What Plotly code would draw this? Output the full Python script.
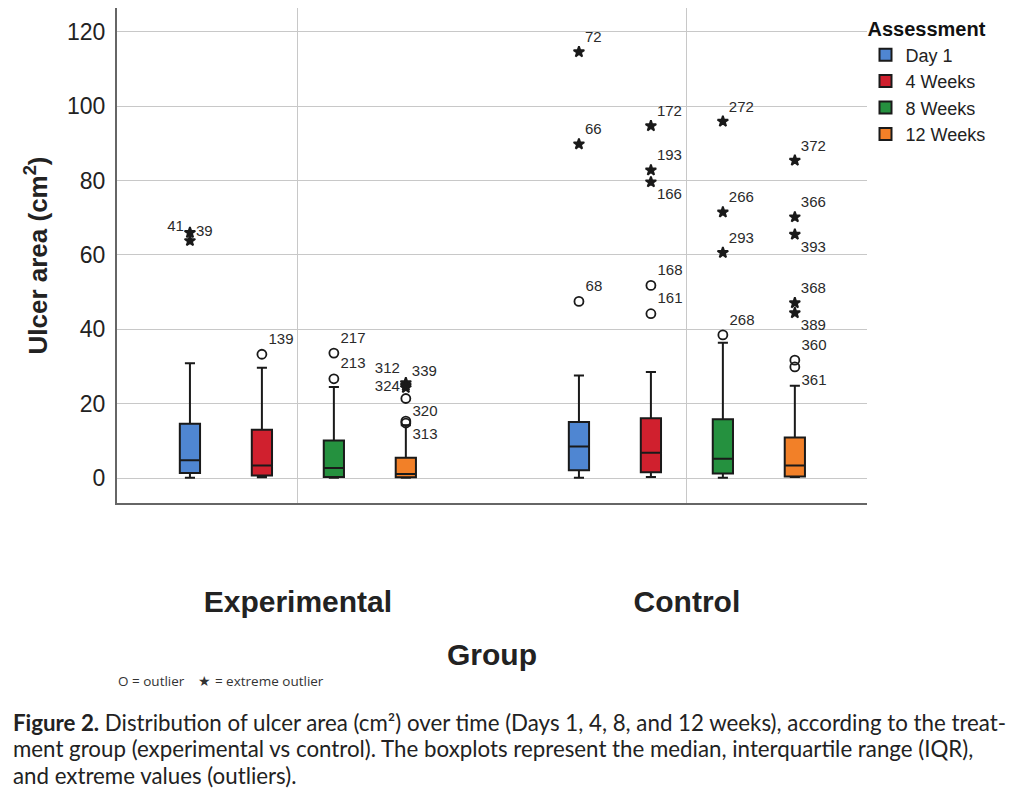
import plotly.graph_objects as go

# box statistics, one value per assessment
assessments = ["Day 1", "4 Weeks", "8 Weeks", "12 Weeks"]
groups = ["Experimental", "Control"]

exp_low = [0.1, 0.2, 0.1, 0.1]
exp_q1 = [1.35, 0.7, 0.3, 0.2]
exp_median = [4.8, 3.4, 2.7, 1.1]
exp_q3 = [14.6, 13.0, 10.1, 5.5]
exp_high = [30.9, 29.7, 24.5, 14.2]

ctrl_low = [0.1, 0.3, 0.1, 0.3]
ctrl_q1 = [2.1, 1.6, 1.2, 0.4]
ctrl_median = [8.5, 6.8, 5.2, 3.4]
ctrl_q3 = [15.1, 16.1, 15.8, 10.9]
ctrl_high = [27.6, 28.5, 36.4, 24.8]

# outliers: group, assessment, value, kind, case number
out_group = ["Experimental"] * 11 + ["Control"] * 19
out_assess = (["Day 1"] * 2 + ["4 Weeks"] + ["8 Weeks"] * 2 + ["12 Weeks"] * 6
              + ["Day 1"] * 3 + ["4 Weeks"] * 5 + ["8 Weeks"] * 4 + ["12 Weeks"] * 7)
out_value = [66.0, 63.8, 33.3, 33.6, 26.7, 21.4, 15.3, 14.8, 25.6, 24.9, 24.3,
             114.6, 89.8, 47.5, 94.7, 82.8, 79.6, 51.8, 44.2,
             95.9, 71.5, 60.6, 38.5,
             85.4, 70.2, 65.5, 47.1, 44.4, 31.7, 29.9]
out_kind = ["extreme", "extreme", "outlier", "outlier", "outlier", "outlier", "outlier", "outlier",
            "extreme", "extreme", "extreme",
            "extreme", "extreme", "outlier", "extreme", "extreme", "extreme", "outlier", "outlier",
            "extreme", "extreme", "extreme", "outlier",
            "extreme", "extreme", "extreme", "extreme", "extreme", "outlier", "outlier"]
out_id = ["39", "41", "139", "217", "213", "320", "313", "", "312", "339", "324",
          "72", "66", "68", "172", "193", "166", "168", "161",
          "272", "266", "293", "268",
          "372", "366", "393", "368", "389", "360", "361"]
# where each case number sits relative to its marker
label_pos = ["middle right", "top left", "top right", "top right", "top right", "bottom right",
             "bottom right", "top right", "top left", "top right", "middle left",
             "top right", "top right", "top right", "top right", "top right", "bottom right",
             "top right", "top right",
             "top right", "top right", "top right", "top right",
             "top right", "top right", "bottom right", "top right", "bottom right",
             "top right", "bottom right"]

colors = ["#4f86d2", "#d0202e", "#25913f", "#f28028"]
SLOT = 0.185
BOX_W = 0.052

fig = go.Figure()

for i, name in enumerate(assessments):
    off = (i - 1.5) * SLOT
    fig.add_trace(go.Box(
        x=[0 + off, 1 + off],
        q1=[exp_q1[i], ctrl_q1[i]],
        median=[exp_median[i], ctrl_median[i]],
        q3=[exp_q3[i], ctrl_q3[i]],
        lowerfence=[exp_low[i], ctrl_low[i]],
        upperfence=[exp_high[i], ctrl_high[i]],
        width=BOX_W,
        whiskerwidth=0.5,
        name=name,
        fillcolor=colors[i],
        line=dict(color="#1a1a1a", width=2),
        hoverinfo="skip",
    ))

    for kind, symbol, size in [("outlier", "circle-open", 9), ("extreme", "star", 8)]:
        xs, ys, txt, pos = [], [], [], []
        for g, a, v, k, t, p in zip(out_group, out_assess, out_value, out_kind, out_id, label_pos):
            if a == name and k == kind:
                xs.append(groups.index(g) + off)
                ys.append(v)
                txt.append(t)
                pos.append(p)
        fig.add_trace(go.Scatter(
            x=xs, y=ys, text=txt, textposition=pos,
            mode="markers+text",
            marker=dict(symbol=symbol, size=size, color="#1a1a1a",
                        line=dict(color="#1a1a1a", width=1.8)),
            textfont=dict(family="Liberation Sans", size=15, color="#2a2a2a"),
            showlegend=False,
            hoverinfo="skip",
        ))

# the page puts the figure 8px in from the top left corner
fig.update_layout(
    width=1025,
    height=791,
    margin=dict(l=109, r=166, t=0, b=296),
    plot_bgcolor="white",
    paper_bgcolor="white",
    font=dict(family="Liberation Sans", color="#222222"),
    legend=dict(
        title=dict(text="<b>Assessment</b>", font=dict(size=20, color="#111111")),
        font=dict(size=18, color="#222222"),
        x=0.998, y=0.995, xanchor="left", yanchor="top",
        bgcolor="rgba(0,0,0,0)",
        tracegroupgap=0,
    ),
)

fig.update_xaxes(
    range=[-0.465, 1.463],
    tickvals=[0, 1],
    ticktext=["<b>%s</b>" % g for g in groups],
    tickfont=dict(size=30, color="#222222"),
    ticklabelstandoff=71,
    showgrid=True, gridcolor="#c8c8c8", gridwidth=1.2,
    zeroline=False,
    showline=True, linecolor="#666666", linewidth=2,
    title=dict(text="<b>Group</b>", font=dict(size=30, color="#222222"), standoff=27),
    automargin=True,
)

fig.update_yaxes(
    range=[-6.7, 126.4],
    tickvals=[0, 20, 40, 60, 80, 100, 120],
    tickfont=dict(size=23, color="#222222"),
    ticklabelstandoff=5,
    showgrid=True, gridcolor="#c8c8c8", gridwidth=1.2,
    zeroline=False,
    showline=True, linecolor="#666666", linewidth=2,
    title=dict(text="<b>Ulcer area (cm<sup>2</sup>)</b>", font=dict(size=26, color="#222222"), standoff=12),
    automargin=True,
)


def py(px):
    # pixel row of the page -> paper coordinate of the plot area
    return (502.7 - px) / 494.7


def pxx(px):
    return (px - 116.7) / 750


fig.add_annotation(
    text="O = outlier    ★ = extreme outlier",
    xref="paper", yref="paper", x=pxx(116), y=py(681),
    xanchor="left", yanchor="middle", showarrow=False,
    font=dict(family="Open Sans", size=13.5, color="#333333"),
)

caption = [
    "<b>Figure 2.</b> Distribution of ulcer area (cm²) over time (Days 1, 4, 8, and 12 weeks), according to the treat-",
    "ment group (experimental vs control). The boxplots represent the median, interquartile range (IQR),",
    "and extreme values (outliers).",
]
for k, line in enumerate(caption):
    fig.add_annotation(
        text=line,
        xref="paper", yref="paper", x=pxx(11), y=py(722 + 26.5 * k),
        xanchor="left", yanchor="middle", showarrow=False,
        font=dict(family="Lato", size=22.3, color="#222222"),
    )

fig.write_html("out.html")
